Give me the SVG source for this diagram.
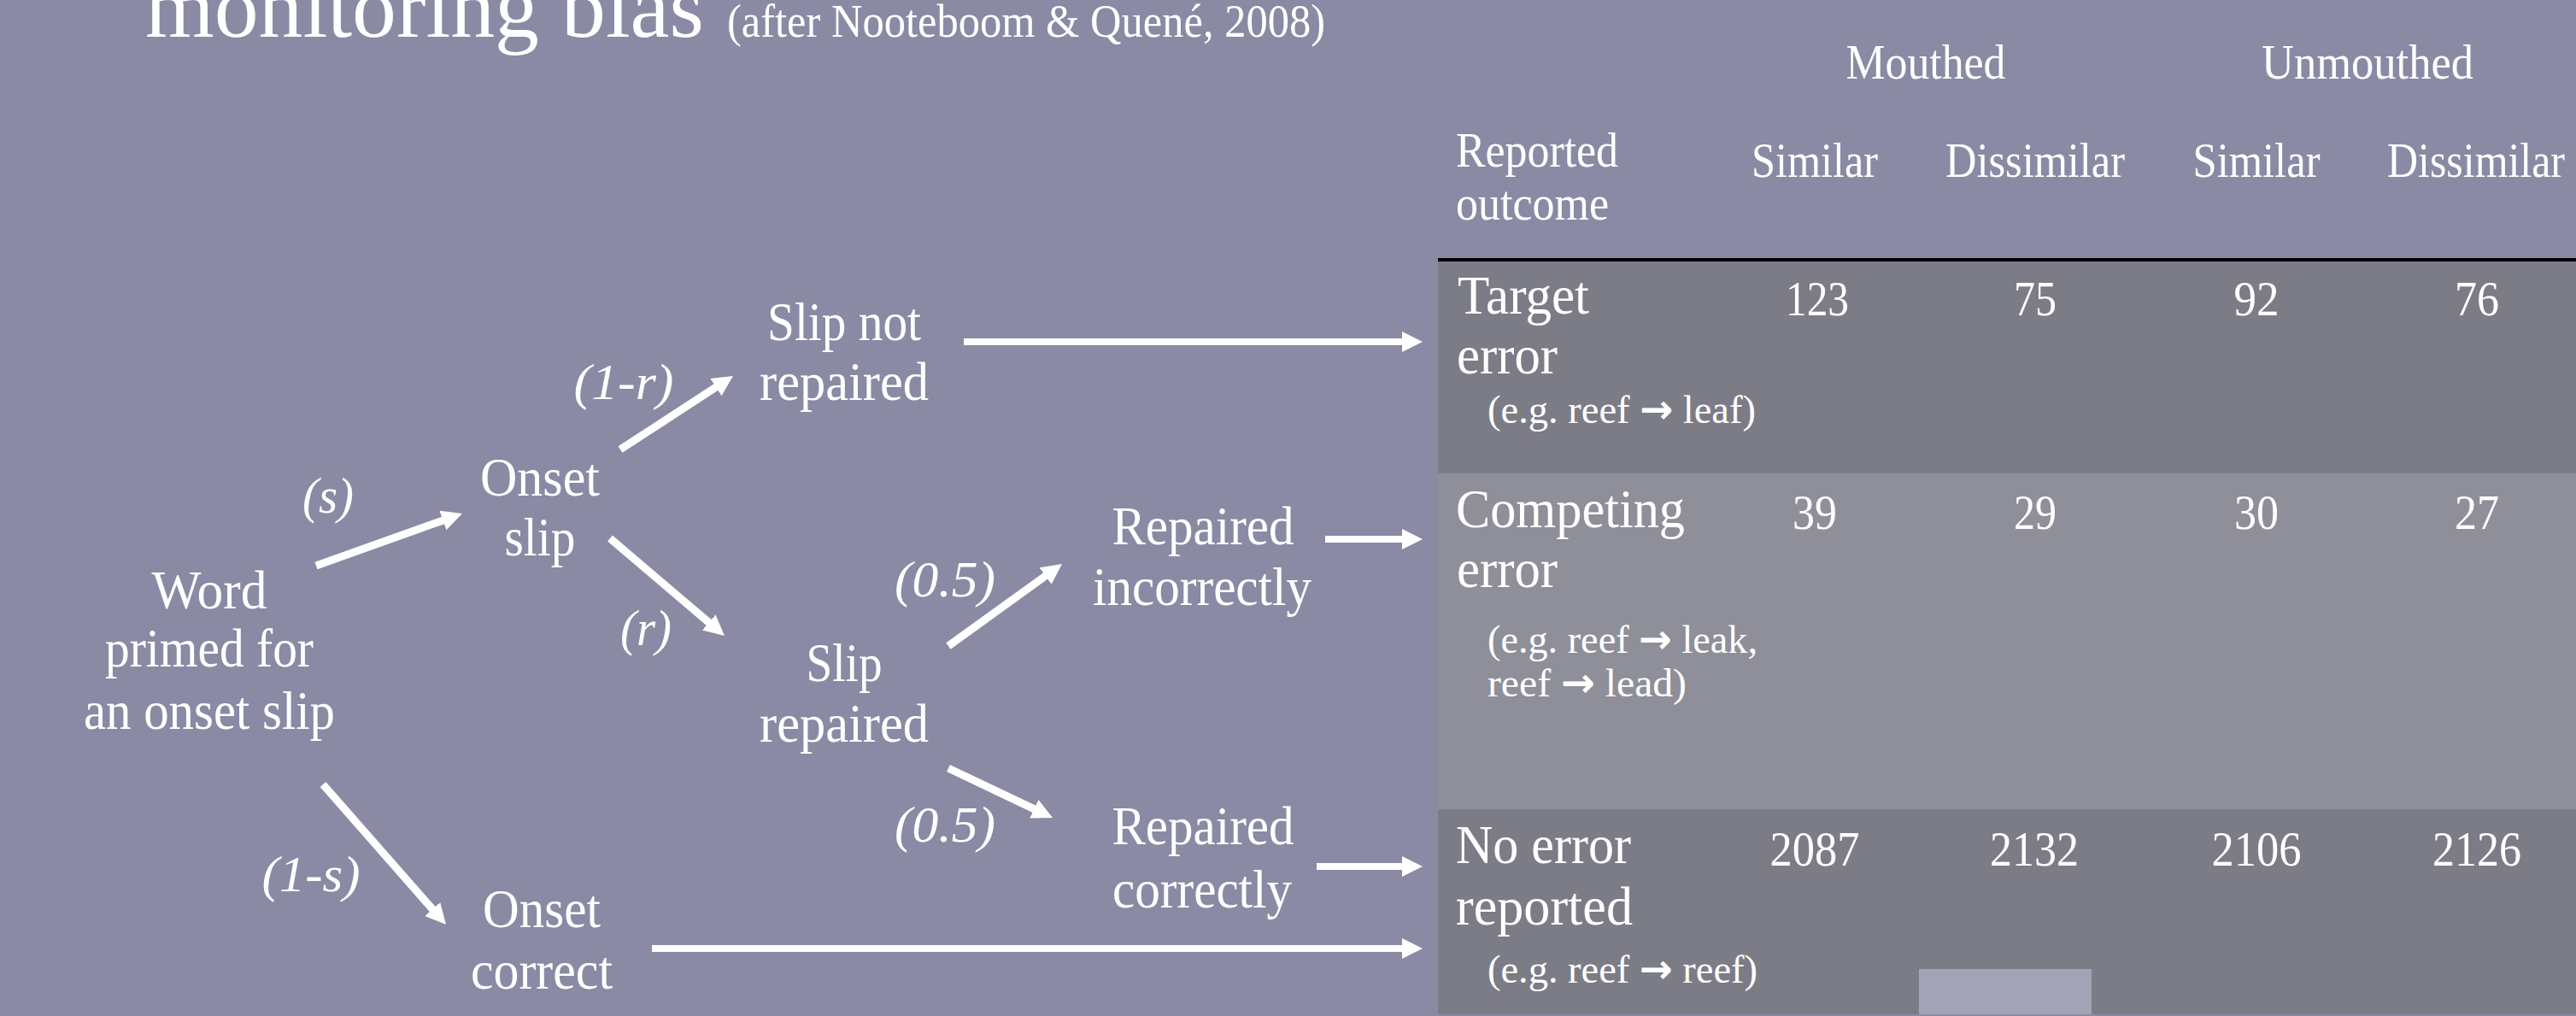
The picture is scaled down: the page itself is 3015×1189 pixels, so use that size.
<svg xmlns="http://www.w3.org/2000/svg" width="3015" height="1189" viewBox="0 0 3015 1189">
<defs>
<style>
.t{font-family:"Liberation Serif","Times New Roman",serif;fill:#fff}
.n{font-size:64px;text-anchor:middle}
.p{font-size:60px;font-style:italic;text-anchor:middle}
.h{font-size:56px}
.m{text-anchor:middle}
.r{font-size:64px}
.e{font-size:47px}
.a{font-family:"DejaVu Sans",sans-serif;font-weight:bold}
.v{font-size:56px;text-anchor:middle}
.c{stroke:#fff;stroke-width:9;fill:none;marker-end:url(#ah)}
.ch{stroke-width:8}
</style>
<marker id="ah" markerUnits="userSpaceOnUse" markerWidth="26" markerHeight="26" refX="2" refY="12" orient="auto">
<path d="M0,0 L24,12 L0,24 z" fill="#fff"/>
</marker>
</defs>
<rect width="3015" height="1189" fill="#8a8aa4"/>

<g id="title" class="t">
<text x="170" y="43" font-size="104" textLength="654" lengthAdjust="spacingAndGlyphs">monitoring bias</text>
<text x="851" y="43" font-size="54" textLength="700" lengthAdjust="spacingAndGlyphs">(after Nooteboom &amp; Quené, 2008)</text>
</g>

<g id="table">
<rect x="1683" y="306" width="1332" height="248" fill="#7c7c87"/>
<rect x="1683" y="554" width="1332" height="393" fill="#8f8f9a"/>
<rect x="1683" y="947" width="1332" height="240" fill="#7c7c87"/>
<rect x="2246" y="1134" width="202" height="53" fill="#a3a3b5"/>
<line x1="1683" y1="304" x2="3015" y2="304" stroke="#000" stroke-width="4"/>
<g class="t h">
<text class="m" x="2254" y="92" textLength="187" lengthAdjust="spacingAndGlyphs">Mouthed</text>
<text class="m" x="2771" y="92" textLength="248" lengthAdjust="spacingAndGlyphs">Unmouthed</text>
<text x="1704" y="195" textLength="190" lengthAdjust="spacingAndGlyphs">Reported</text>
<text x="1704" y="257" textLength="179" lengthAdjust="spacingAndGlyphs">outcome</text>
<text class="m" x="2124" y="207" textLength="148" lengthAdjust="spacingAndGlyphs">Similar</text>
<text class="m" x="2382" y="207" textLength="210" lengthAdjust="spacingAndGlyphs">Dissimilar</text>
<text class="m" x="2641" y="207" textLength="149" lengthAdjust="spacingAndGlyphs">Similar</text>
<text class="m" x="2898" y="207" textLength="208" lengthAdjust="spacingAndGlyphs">Dissimilar</text>
</g>
<g id="row-target" class="t">
<text class="r" x="1706" y="367" textLength="154" lengthAdjust="spacingAndGlyphs">Target</text>
<text class="r" x="1705" y="437" textLength="118" lengthAdjust="spacingAndGlyphs">error</text>
<text class="e" x="1741" y="495" textLength="314" lengthAdjust="spacingAndGlyphs">(e.g. reef <tspan class="a">→</tspan> leaf)</text>
<text class="v" x="2127" y="369" textLength="74" lengthAdjust="spacingAndGlyphs">123</text>
<text class="v" x="2382" y="369" textLength="50" lengthAdjust="spacingAndGlyphs">75</text>
<text class="v" x="2641" y="369" textLength="53" lengthAdjust="spacingAndGlyphs">92</text>
<text class="v" x="2899" y="369" textLength="52" lengthAdjust="spacingAndGlyphs">76</text>
</g>
<g id="row-competing" class="t">
<text class="r" x="1704" y="617" textLength="268" lengthAdjust="spacingAndGlyphs">Competing</text>
<text class="r" x="1705" y="687" textLength="118" lengthAdjust="spacingAndGlyphs">error</text>
<text class="e" x="1741" y="764" textLength="316" lengthAdjust="spacingAndGlyphs">(e.g. reef <tspan class="a">→</tspan> leak,</text>
<text class="e" x="1741" y="815" textLength="233" lengthAdjust="spacingAndGlyphs">reef <tspan class="a">→</tspan> lead)</text>
<text class="v" x="2124" y="619" textLength="52" lengthAdjust="spacingAndGlyphs">39</text>
<text class="v" x="2382" y="619" textLength="50" lengthAdjust="spacingAndGlyphs">29</text>
<text class="v" x="2641" y="619" textLength="52" lengthAdjust="spacingAndGlyphs">30</text>
<text class="v" x="2899" y="619" textLength="52" lengthAdjust="spacingAndGlyphs">27</text>
</g>
<g id="row-noerror" class="t">
<text class="r" x="1704" y="1010" textLength="205" lengthAdjust="spacingAndGlyphs">No error</text>
<text class="r" x="1704" y="1082" textLength="207" lengthAdjust="spacingAndGlyphs">reported</text>
<text class="e" x="1741" y="1150" textLength="316" lengthAdjust="spacingAndGlyphs">(e.g. reef <tspan class="a">→</tspan> reef)</text>
<text class="v" x="2124" y="1013" textLength="105" lengthAdjust="spacingAndGlyphs">2087</text>
<text class="v" x="2381" y="1013" textLength="104" lengthAdjust="spacingAndGlyphs">2132</text>
<text class="v" x="2641" y="1013" textLength="105" lengthAdjust="spacingAndGlyphs">2106</text>
<text class="v" x="2899" y="1013" textLength="104" lengthAdjust="spacingAndGlyphs">2126</text>
</g>
</g>

<g id="node-word" class="t n">
<text x="245" y="712" textLength="135" lengthAdjust="spacingAndGlyphs">Word</text>
<text x="245" y="780" textLength="244" lengthAdjust="spacingAndGlyphs">primed for</text>
<text x="245" y="853" textLength="294" lengthAdjust="spacingAndGlyphs">an onset slip</text>
</g>
<g id="node-onset-slip" class="t n">
<text x="632" y="580" textLength="140" lengthAdjust="spacingAndGlyphs">Onset</text>
<text x="632" y="650" textLength="83" lengthAdjust="spacingAndGlyphs">slip</text>
</g>
<g id="node-onset-correct" class="t n">
<text x="634" y="1085" textLength="138" lengthAdjust="spacingAndGlyphs">Onset</text>
<text x="634" y="1157" textLength="166" lengthAdjust="spacingAndGlyphs">correct</text>
</g>
<g id="node-slip-not-repaired" class="t n">
<text x="988" y="398" textLength="180" lengthAdjust="spacingAndGlyphs">Slip not</text>
<text x="988" y="468" textLength="198" lengthAdjust="spacingAndGlyphs">repaired</text>
</g>
<g id="node-slip-repaired" class="t n">
<text x="988" y="797" textLength="89" lengthAdjust="spacingAndGlyphs">Slip</text>
<text x="988" y="868" textLength="198" lengthAdjust="spacingAndGlyphs">repaired</text>
</g>
<g id="node-repaired-incorrectly" class="t n">
<text x="1408" y="637" textLength="213" lengthAdjust="spacingAndGlyphs">Repaired</text>
<text x="1407" y="708" textLength="256" lengthAdjust="spacingAndGlyphs">incorrectly</text>
</g>
<g id="node-repaired-correctly" class="t n">
<text x="1408" y="988" textLength="213" lengthAdjust="spacingAndGlyphs">Repaired</text>
<text x="1407" y="1062" textLength="210" lengthAdjust="spacingAndGlyphs">correctly</text>
</g>

<g id="connectors">
<line class="c" x1="370" y1="662" x2="520.3" y2="608.4"/>
<line class="c" x1="726" y1="526" x2="839.6" y2="452"/>
<line class="c" x1="714" y1="630" x2="831.2" y2="729.7"/>
<line class="c" x1="378" y1="918" x2="507.5" y2="1065.5"/>
<line class="c" x1="1110" y1="756" x2="1225.2" y2="672.9"/>
<line class="c" x1="1110" y1="899" x2="1212.1" y2="947.6"/>
<line class="c ch" x1="1128" y1="400" x2="1643" y2="400"/>
<line class="c ch" x1="1551" y1="631" x2="1643" y2="631"/>
<line class="c ch" x1="1541" y1="1014" x2="1643" y2="1014"/>
<line class="c ch" x1="763" y1="1110" x2="1643" y2="1110"/>
<g class="t p">
<text x="384" y="600" textLength="60" lengthAdjust="spacingAndGlyphs">(s)</text>
<text x="730" y="467" textLength="117" lengthAdjust="spacingAndGlyphs">(1-r)</text>
<text x="756" y="755" textLength="60" lengthAdjust="spacingAndGlyphs">(r)</text>
<text x="1106" y="698" textLength="118" lengthAdjust="spacingAndGlyphs">(0.5)</text>
<text x="1106" y="985" textLength="118" lengthAdjust="spacingAndGlyphs">(0.5)</text>
<text x="364" y="1043" textLength="115" lengthAdjust="spacingAndGlyphs">(1-s)</text>
</g>
</g>
</svg>
